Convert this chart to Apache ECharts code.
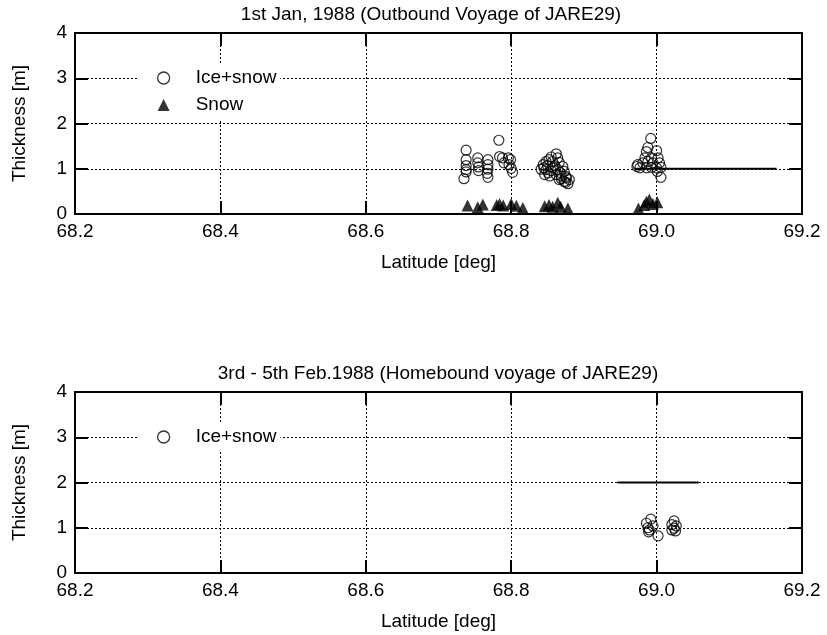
<!DOCTYPE html>
<html>
<head>
<meta charset="utf-8">
<script src="https://cdn.jsdelivr.net/npm/echarts@6/dist/echarts.min.js"></script>
<style>
html,body{margin:0;padding:0;background:#fff;}
#chart{width:827px;height:635px;}
</style>
</head>
<body>
<div id="chart"></div>
<script>
// ---------- data ----------
var topTitle = '1st Jan, 1988 (Outbound Voyage of JARE29)';
var botTitle = '3rd - 5th Feb.1988 (Homebound voyage of JARE29)';
var xTickMin = 68.2, xTickMax = 69.2, xTickStep = 0.2;
var yTickMin = 0, yTickMax = 4, yTickStep = 1;

// Top panel: Ice+snow thickness
var topIceLat = [68.738, 68.738, 68.738, 68.738, 68.738, 68.735,
  68.754, 68.754, 68.755, 68.755,
  68.768, 68.768, 68.768, 68.767, 68.768,
  68.783, 68.784, 68.788, 68.790, 68.796, 68.799, 68.797, 68.800, 68.802,
  68.862, 68.855, 68.864, 68.848, 68.857, 68.866, 68.844, 68.850, 68.860, 68.871,
  68.841, 68.848, 68.855, 68.864, 68.873, 68.846, 68.853, 68.862, 68.869, 68.875,
  68.866, 68.873, 68.878, 68.880, 68.875,
  68.852, 68.845, 68.858, 68.867, 68.851, 68.876, 68.869,
  68.992, 68.988, 68.986, 69.000, 68.984, 68.993, 69.002, 68.974, 68.981, 68.988,
  68.995, 69.004, 68.977, 68.986, 68.993, 69.000, 69.006, 69.001, 69.006, 68.973];
var topIceVal = [1.41, 1.20, 1.07, 0.98, 0.93, 0.78,
  1.24, 1.13, 1.04, 0.96,
  1.20, 1.09, 0.99, 0.90, 0.81,
  1.63, 1.27, 1.24, 1.13, 1.24, 1.20, 1.09, 1.01, 0.92,
  1.33, 1.26, 1.24, 1.16, 1.16, 1.14, 1.09, 1.07, 1.07, 1.05,
  0.99, 0.98, 0.96, 0.98, 0.94, 0.87, 0.84, 0.87, 0.84, 0.83,
  0.76, 0.72, 0.67, 0.76, 0.70,
  1.20, 1.02, 1.02, 0.92, 0.91, 0.80, 0.78,
  1.67, 1.47, 1.38, 1.40, 1.24, 1.24, 1.24, 1.09, 1.13, 1.16,
  1.13, 1.13, 1.02, 1.02, 1.03, 1.02, 1.03, 0.94, 0.81, 1.05];

// Top panel: Snow thickness
var topSnowLat = [68.740, 68.754, 68.761, 68.780, 68.784, 68.789, 68.800, 68.807, 68.816,
  68.846, 68.852, 68.857, 68.864, 68.868, 68.878,
  68.975, 68.983, 68.986, 68.990, 68.995, 69.001];
var topSnowVal = [0.19, 0.15, 0.21, 0.20, 0.22, 0.19, 0.22, 0.18, 0.13,
  0.17, 0.20, 0.16, 0.25, 0.16, 0.12,
  0.12, 0.20, 0.27, 0.32, 0.22, 0.26];

// Top panel: horizontal level line
var topLineLat = [68.970, 69.165];
var topLineVal = [1, 1];

// Bottom panel: Ice+snow thickness
var botIceLat = [68.992, 68.986, 68.988, 68.990, 68.995, 69.002, 68.989,
  69.024, 69.021, 69.027, 69.024, 69.026, 69.021];
var botIceVal = [1.19, 1.10, 1.00, 0.95, 1.04, 0.82, 0.91,
  1.15, 1.07, 1.04, 0.99, 0.93, 0.95];

// Bottom panel: horizontal level line
var botLineLat = [68.946, 69.058];
var botLineVal = [2, 2];

// ---------- chart ----------
function zip(a, b) { return a.map(function (v, i) { return [v, b[i]]; }); }

var FONT = "'Liberation Sans', Arial, sans-serif";
var FS = 19;

function xAxisCfg(grid, pos, main) {
  return {
    type: 'value', gridIndex: grid, position: pos,
    min: xTickMin, max: xTickMax, interval: xTickStep,
    axisLine: { show: true, onZero: false, lineStyle: { color: '#000', width: 2 } },
    axisTick: { show: true, inside: true, length: 13, lineStyle: { color: '#000', width: 2 } },
    axisLabel: { show: main, margin: 8, color: '#000', fontFamily: FONT, fontSize: FS,
      formatter: function (v) { return v.toFixed(1); } },
    splitLine: { show: main, lineStyle: { color: '#000', width: 1, type: [2, 2] } },
    name: main ? 'Latitude [deg]' : '', nameLocation: 'middle', nameGap: 39,
    nameTextStyle: { color: '#000', fontFamily: FONT, fontSize: FS }
  };
}
function yAxisCfg(grid, pos, main) {
  return {
    type: 'value', gridIndex: grid, position: pos,
    min: yTickMin, max: yTickMax, interval: yTickStep,
    axisLine: { show: true, onZero: false, lineStyle: { color: '#000', width: 2 } },
    axisTick: { show: true, inside: true, length: 13, lineStyle: { color: '#000', width: 2 } },
    axisLabel: { show: main, margin: 8, color: '#000', fontFamily: FONT, fontSize: FS },
    splitLine: { show: main, lineStyle: { color: '#000', width: 1, type: [2, 2] } },
    name: main ? 'Thickness [m]' : '', nameLocation: 'middle', nameRotate: 90, nameGap: 46,
    nameTextStyle: { color: '#000', fontFamily: FONT, fontSize: FS }
  };
}

function legendCfg(top, items) {
  var all = {
    'Ice+snow': { name: 'Ice+snow', icon: 'circle', itemStyle: { color: '#fff', borderColor: '#000', borderWidth: 1.3 } },
    'Snow': { name: 'Snow', icon: 'triangle', itemStyle: { color: '#000', borderWidth: 0 } }
  };
  return {
    orient: 'vertical', left: 138, top: top,
    backgroundColor: '#fff', padding: [4, 4, 4, 19],
    itemGap: 7, itemWidth: 12, itemHeight: 12,
    selectedMode: false,
    data: items.map(function (n) { return all[n]; }),
    formatter: function (n) { return '{g|}' + n; },
    textStyle: { color: '#000', fontFamily: FONT, fontSize: FS, lineHeight: 20,
      rich: { g: { width: 21 } } }
  };
}

var chart = echarts.init(document.getElementById('chart'), null, { renderer: 'canvas' });
chart.setOption({
  animation: false,
  backgroundColor: '#fff',
  grid: [
    { left: 75, right: 25, top: 33, height: 181, show: true, borderColor: '#000', borderWidth: 2, backgroundColor: 'transparent' },
    { left: 75, right: 25, top: 392, height: 181, show: true, borderColor: '#000', borderWidth: 2, backgroundColor: 'transparent' }
  ],
  xAxis: [xAxisCfg(0, 'bottom', true), xAxisCfg(0, 'top', false),
          xAxisCfg(1, 'bottom', true), xAxisCfg(1, 'top', false)],
  yAxis: [yAxisCfg(0, 'left', true), yAxisCfg(0, 'right', false),
          yAxisCfg(1, 'left', true), yAxisCfg(1, 'right', false)],
  legend: [legendCfg(64, ['Ice+snow', 'Snow']), legendCfg(423, ['Ice+snow'])],
  graphic: [
    { type: 'text', x: 431, y: 15, style: { text: topTitle, fill: '#000', font: FS + 'px ' + FONT, textAlign: 'center', textVerticalAlign: 'middle' } },
    { type: 'text', x: 438, y: 374, style: { text: botTitle, fill: '#000', font: FS + 'px ' + FONT, textAlign: 'center', textVerticalAlign: 'middle' } }
  ],
  series: [
    { name: 'Ice+snow', type: 'scatter', xAxisIndex: 0, yAxisIndex: 0, data: zip(topIceLat, topIceVal),
      symbol: 'circle', symbolSize: 10, z: 4,
      itemStyle: { color: 'rgba(255,255,255,0)', borderColor: '#000', borderWidth: 1.2 } },
    { name: 'Snow', type: 'scatter', xAxisIndex: 0, yAxisIndex: 0, data: zip(topSnowLat, topSnowVal),
      symbol: 'triangle', symbolSize: 12, z: 4, itemStyle: { color: '#000' } },
    { name: 'level1', type: 'line', xAxisIndex: 0, yAxisIndex: 0, data: zip(topLineLat, topLineVal),
      symbol: 'none', z: 3, lineStyle: { color: '#000', width: 2 } },
    { name: 'Ice+snow', type: 'scatter', xAxisIndex: 2, yAxisIndex: 2, data: zip(botIceLat, botIceVal),
      symbol: 'circle', symbolSize: 10, z: 4,
      itemStyle: { color: 'rgba(255,255,255,0)', borderColor: '#000', borderWidth: 1.2 } },
    { name: 'level2', type: 'line', xAxisIndex: 2, yAxisIndex: 2, data: zip(botLineLat, botLineVal),
      symbol: 'none', z: 3, lineStyle: { color: '#000', width: 2 } }
  ]
});
</script>
</body>
</html>
